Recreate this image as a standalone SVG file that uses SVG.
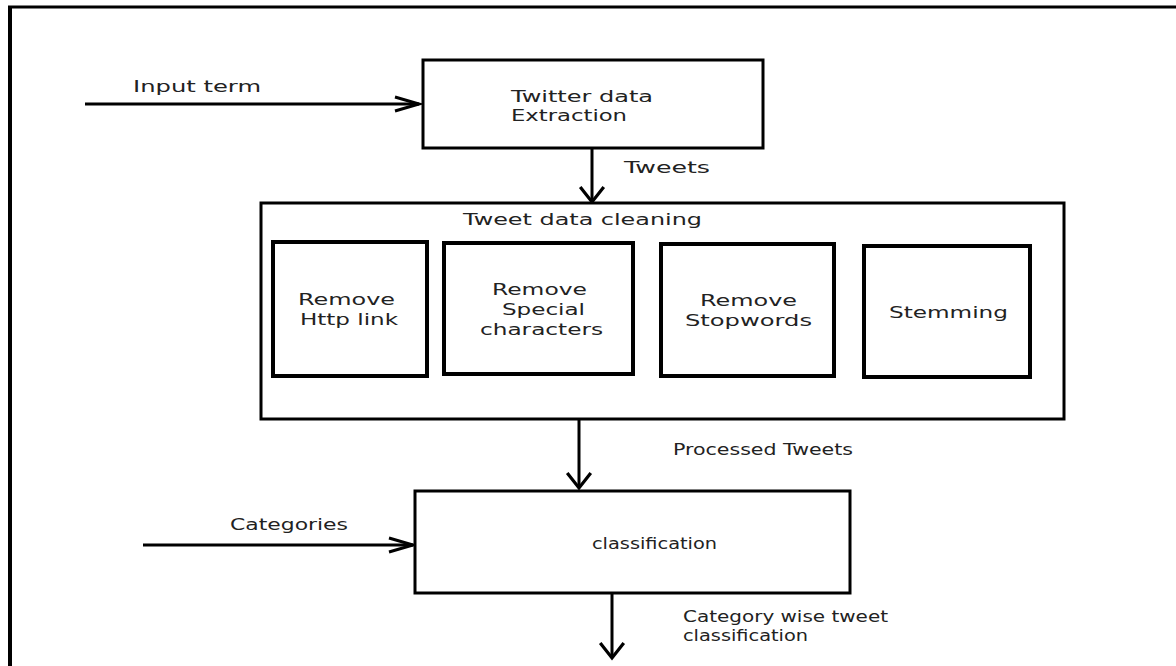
<svg xmlns="http://www.w3.org/2000/svg" width="1176" height="666" viewBox="0 0 1176 666">
<style>
.bx{fill:#fff;stroke:#000;stroke-width:3}
.ib{fill:#fff;stroke:#000;stroke-width:4}
.ln{fill:none;stroke:#000;stroke-width:3}
.t{font-family:"DejaVu Sans","Liberation Sans",sans-serif;font-size:16px;fill:#222}
</style>
<defs>
<marker id="ah" markerUnits="userSpaceOnUse" markerWidth="30" markerHeight="20" viewBox="-2 -10 30 20" refX="24" refY="0" orient="auto" overflow="visible">
<path d="M0,-7 L24,0 L0,7" fill="none" stroke="#000" stroke-width="3"/>
</marker>
<marker id="av" markerUnits="userSpaceOnUse" markerWidth="30" markerHeight="30" viewBox="-2 -14 20 28" refX="14" refY="0" orient="auto" overflow="visible">
<path d="M0,-11 L14,0 L0,11" fill="none" stroke="#000" stroke-width="3"/>
</marker>
</defs>
<rect width="1176" height="666" fill="#fff"/>
<g id="frame">
<line x1="8" y1="7" x2="1176" y2="7" stroke="#000" stroke-width="3"/>
<line x1="10" y1="6" x2="10" y2="666" stroke="#000" stroke-width="4"/>
</g>
<g id="connectors">
<line class="ln" x1="85" y1="104" x2="419" y2="104" marker-end="url(#ah)"/>
<text class="t" x="133" y="92" textLength="128" lengthAdjust="spacingAndGlyphs">Input term</text>
<line class="ln" x1="592" y1="148" x2="592" y2="202" marker-end="url(#av)"/>
<text class="t" x="624" y="173" textLength="86" lengthAdjust="spacingAndGlyphs">Tweets</text>
<line class="ln" x1="579" y1="419" x2="579" y2="488" marker-end="url(#av)"/>
<text class="t" x="673" y="455" textLength="180" lengthAdjust="spacingAndGlyphs">Processed Tweets</text>
<line class="ln" x1="143" y1="545" x2="413" y2="545" marker-end="url(#ah)"/>
<text class="t" x="230" y="530" textLength="118" lengthAdjust="spacingAndGlyphs">Categories</text>
<line class="ln" x1="612" y1="593" x2="612" y2="658" marker-end="url(#av)"/>
<text class="t" x="683" y="622" textLength="205" lengthAdjust="spacingAndGlyphs">Category wise tweet</text>
<text class="t" x="683" y="641" textLength="125" lengthAdjust="spacingAndGlyphs">classification</text>
</g>
<g id="twitter-extraction">
<rect class="bx" x="423" y="60" width="340" height="88"/>
<text class="t" x="511" y="102" textLength="142" lengthAdjust="spacingAndGlyphs">Twitter data</text>
<text class="t" x="511" y="121" textLength="116" lengthAdjust="spacingAndGlyphs">Extraction</text>
</g>
<g id="tweet-cleaning">
<rect class="bx" x="261" y="203" width="803" height="216"/>
<text class="t" x="463" y="225" textLength="239" lengthAdjust="spacingAndGlyphs">Tweet data cleaning</text>
</g>
<g id="remove-http">
<rect class="ib" x="273" y="242" width="154" height="134"/>
<text class="t" x="298" y="305" textLength="97" lengthAdjust="spacingAndGlyphs">Remove</text>
<text class="t" x="300" y="325" textLength="98" lengthAdjust="spacingAndGlyphs">Http link</text>
</g>
<g id="remove-special">
<rect class="ib" x="444" y="243" width="189" height="131"/>
<text class="t" x="492" y="295" textLength="95" lengthAdjust="spacingAndGlyphs">Remove</text>
<text class="t" x="502" y="315" textLength="83" lengthAdjust="spacingAndGlyphs">Special</text>
<text class="t" x="480" y="335" textLength="123" lengthAdjust="spacingAndGlyphs">characters</text>
</g>
<g id="remove-stopwords">
<rect class="ib" x="661" y="244" width="173" height="132"/>
<text class="t" x="700" y="306" textLength="97" lengthAdjust="spacingAndGlyphs">Remove</text>
<text class="t" x="685" y="326" textLength="127" lengthAdjust="spacingAndGlyphs">Stopwords</text>
</g>
<g id="stemming">
<rect class="ib" x="864" y="246" width="166" height="131"/>
<text class="t" x="889" y="318" textLength="119" lengthAdjust="spacingAndGlyphs">Stemming</text>
</g>
<g id="classification">
<rect class="bx" x="415" y="491" width="435" height="102"/>
<text class="t" x="592" y="549" textLength="125" lengthAdjust="spacingAndGlyphs">classification</text>
</g>
</svg>
